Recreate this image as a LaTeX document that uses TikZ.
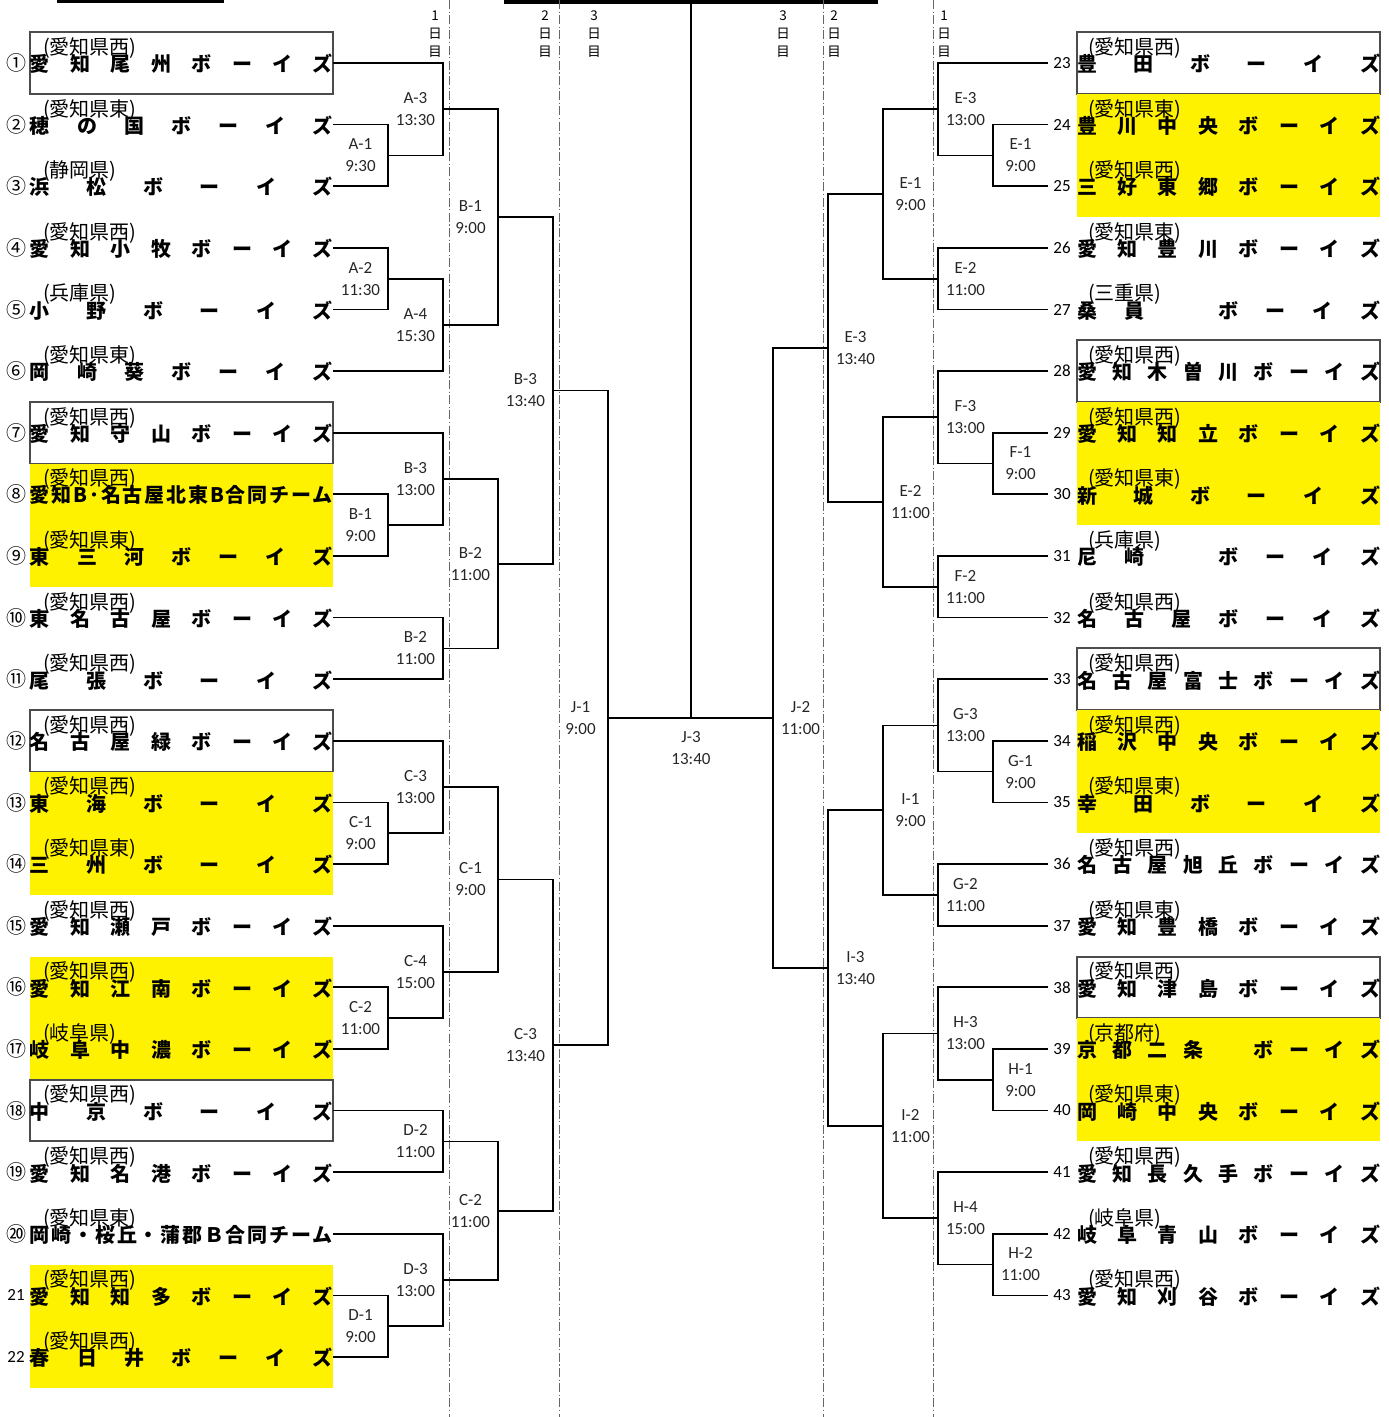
\documentclass[tikz,border=0pt]{standalone}
\usepackage{fontspec}
\setmainfont{Carlito}
\newfontfamily\cjk{Noto Sans CJK JP}
\newcommand\jj{\hfill}
\newcommand\bl{\hfill\phantom{ボ}\hfill}
\tikzset{
  br/.style={line width=1.7pt, black},
  dd/.style={line width=0.9pt, gray!80!black, dash pattern=on 9pt off 2.5pt on 1.2pt off 2.5pt},
  mlab/.style={font=\fontsize{17}{22}\selectfont, align=center, inner sep=0pt, text=black!85},
  daylab/.style={font=\cjk\fontsize{13.5}{18}\selectfont, align=center, inner sep=0pt},
  pref/.style={font=\cjk\fontsize{20}{20}\selectfont, anchor=west, inner sep=0pt},
  tnm/.style={font=\cjk\bfseries\fontsize{20}{20}\selectfont, inner sep=0pt},
  cnum/.style={font=\cjk\fontsize{20}{20}\selectfont, inner sep=0pt},
  pnum/.style={font=\fontsize{17}{18}\selectfont, inner sep=0pt},
  wbox/.style={draw=black!70, line width=1.1pt, fill=white},
  ybox/.style={fill=yellow}
}
\newcommand\tmL[4]{%
  \node[tnm] (#1n) at (181.5,{#2+1}) {\makebox[303pt][s]{#4}};
  \node[pref] (#1p) at (43,{#2-15}) {#3};}
\newcommand\tmR[4]{%
  \node[tnm] (#1n) at (1228.5,{#2+1}) {\makebox[303pt][s]{#4}};
  \node[pref] (#1p) at (1088,{#2-15}) {#3};}
\newcommand\br[3]{\draw[br] (#2) -- (#2 -| #1) -- (#3 -| #1) -- (#3);}
\begin{document}
\begin{tikzpicture}[x=1pt,y=-1pt]
\useasboundingbox (0,0) rectangle (1389,1417);
% boxes
\draw[wbox] (30,32) rectangle (333,94);
\draw[wbox] (30,402) rectangle (333,463.5);
\fill[ybox] (30,463.5) rectangle (333,587);
\draw[wbox] (30,710) rectangle (333,771.6);
\fill[ybox] (30,771.6) rectangle (333,895);
\fill[ybox] (30,956.5) rectangle (333,1080);
\draw[wbox] (30,1080) rectangle (333,1141);
\fill[ybox] (30,1264.6) rectangle (333,1388);
\draw[wbox] (1077,32) rectangle (1380,94);
\fill[ybox] (1077,94) rectangle (1380,217);
\draw[wbox] (1077,340) rectangle (1380,402);
\fill[ybox] (1077,402) rectangle (1380,525);
\draw[wbox] (1077,648) rectangle (1380,710);
\fill[ybox] (1077,710) rectangle (1380,833);
\draw[wbox] (1077,957) rectangle (1380,1018);
\fill[ybox] (1077,1018) rectangle (1380,1141);
% top bars
\fill (57,0) rectangle (224,2.5);
\fill (504,0) rectangle (878,3.5);
% day separators
\draw[dd] (449,0) -- (449,1417);
\draw[dd] (559,0) -- (559,1417);
\draw[dd] (823,0) -- (823,1417);
\draw[dd] (933,0) -- (933,1417);
\node[daylab] (d1l) at (435,34) {1\\日\\目};
\node[daylab] (d2l) at (545,34) {2\\日\\目};
\node[daylab] (d3l) at (594,34) {3\\日\\目};
\node[daylab] (d3r) at (783,34) {3\\日\\目};
\node[daylab] (d2r) at (834,34) {2\\日\\目};
\node[daylab] (d1r) at (944,34) {1\\日\\目};
% team line ends
\coordinate (t1) at (333,63);
\coordinate (t2) at (333,124.6);
\coordinate (t3) at (333,186.2);
\coordinate (t4) at (333,247.9);
\coordinate (t5) at (333,309.5);
\coordinate (t6) at (333,371.1);
\coordinate (t7) at (333,432.7);
\coordinate (t8) at (333,494.3);
\coordinate (t9) at (333,556.0);
\coordinate (t10) at (333,617.6);
\coordinate (t11) at (333,679.2);
\coordinate (t12) at (333,740.8);
\coordinate (t13) at (333,802.4);
\coordinate (t14) at (333,864.1);
\coordinate (t15) at (333,925.7);
\coordinate (t16) at (333,987.3);
\coordinate (t17) at (333,1048.9);
\coordinate (t18) at (333,1110.5);
\coordinate (t19) at (333,1172.2);
\coordinate (t20) at (333,1233.8);
\coordinate (t21) at (333,1295.4);
\coordinate (t22) at (333,1357.0);
\coordinate (t23) at (1048,63);
\coordinate (t24) at (1048,124.6);
\coordinate (t25) at (1048,186.2);
\coordinate (t26) at (1048,247.9);
\coordinate (t27) at (1048,309.5);
\coordinate (t28) at (1048,371.1);
\coordinate (t29) at (1048,432.7);
\coordinate (t30) at (1048,494.3);
\coordinate (t31) at (1048,556.0);
\coordinate (t32) at (1048,617.6);
\coordinate (t33) at (1048,679.2);
\coordinate (t34) at (1048,740.8);
\coordinate (t35) at (1048,802.4);
\coordinate (t36) at (1048,864.1);
\coordinate (t37) at (1048,925.7);
\coordinate (t38) at (1048,987.3);
\coordinate (t39) at (1048,1048.9);
\coordinate (t40) at (1048,1110.5);
\coordinate (t41) at (1048,1172.2);
\coordinate (t42) at (1048,1233.8);
\coordinate (t43) at (1048,1295.4);
% match points (left)
\coordinate (A1) at (388,155.4);
\coordinate (A2) at (388,278.7);
\coordinate (A3) at (443,109.2);
\coordinate (A4) at (443,324.9);
\coordinate (B1) at (498,217.05);
\coordinate (Bm1) at (388,525.15);
\coordinate (B3a) at (443,478.9);
\coordinate (B2a) at (443,648.4);
\coordinate (B2b) at (498,563.65);
\coordinate (B3b) at (553,390.35);
\coordinate (C1a) at (388,833.25);
\coordinate (C3a) at (443,787.0);
\coordinate (C2a) at (388,1018.1);
\coordinate (C4) at (443,971.9);
\coordinate (C1b) at (498,879.45);
\coordinate (D2) at (443,1141.35);
\coordinate (D1) at (388,1326.2);
\coordinate (D3) at (443,1280.0);
\coordinate (C2b) at (498,1210.7);
\coordinate (C3b) at (553,1045.1);
\coordinate (J1) at (608,717.7);
% match points (right)
\coordinate (E1a) at (993,155.4);
\coordinate (E3a) at (938,109.2);
\coordinate (E2a) at (938,278.7);
\coordinate (E1b) at (883,193.95);
\coordinate (F1) at (993,463.5);
\coordinate (F3) at (938,417.3);
\coordinate (F2) at (938,586.8);
\coordinate (E2b) at (883,502.05);
\coordinate (E3b) at (828,348.0);
\coordinate (G1) at (993,771.6);
\coordinate (G3) at (938,725.4);
\coordinate (G2) at (938,894.9);
\coordinate (I1) at (883,810.15);
\coordinate (H1) at (993,1079.7);
\coordinate (H3) at (938,1033.5);
\coordinate (H2) at (993,1264.5);
\coordinate (H4) at (938,1218.3);
\coordinate (I2) at (883,1125.9);
\coordinate (I3) at (828,968.0);
\coordinate (J2) at (773,717.7);
\coordinate (J3) at (691,717.7);
\coordinate (J3top) at (691,3);
% brackets left
\br{A1}{t2}{t3}
\br{A2}{t4}{t5}
\br{A3}{t1}{A1}
\br{A4}{A2}{t6}
\br{B1}{A3}{A4}
\br{Bm1}{t8}{t9}
\br{B3a}{t7}{Bm1}
\br{B2a}{t10}{t11}
\br{B2b}{B3a}{B2a}
\br{B3b}{B1}{B2b}
\br{C1a}{t13}{t14}
\br{C3a}{t12}{C1a}
\br{C2a}{t16}{t17}
\br{C4}{t15}{C2a}
\br{C1b}{C3a}{C4}
\br{D2}{t18}{t19}
\br{D1}{t21}{t22}
\br{D3}{t20}{D1}
\br{C2b}{D2}{D3}
\br{C3b}{C1b}{C2b}
\br{J1}{B3b}{C3b}
% brackets right
\br{E1a}{t24}{t25}
\br{E3a}{t23}{E1a}
\br{E2a}{t26}{t27}
\br{E1b}{E3a}{E2a}
\br{F1}{t29}{t30}
\br{F3}{t28}{F1}
\br{F2}{t31}{t32}
\br{E2b}{F3}{F2}
\br{E3b}{E1b}{E2b}
\br{G1}{t34}{t35}
\br{G3}{t33}{G1}
\br{G2}{t36}{t37}
\br{I1}{G3}{G2}
\br{H1}{t39}{t40}
\br{H3}{t38}{H1}
\br{H2}{t42}{t43}
\br{H4}{t41}{H2}
\br{I2}{H3}{H4}
\br{I3}{I1}{I2}
\draw[br] (E3b) -- (E3b -| J2) -- (I3 -| J2) -- (I3);
\draw[br] (J1) -- (J2);
\draw[br] (J3) -- (J3top);
% match labels left
\node[mlab] (lA3) at (415.5,109.2) {A-3\\13:30};
\node[mlab] (lA1) at (360.5,155.4) {A-1\\9:30};
\node[mlab] (lB1) at (470.5,217.05) {B-1\\9:00};
\node[mlab] (lA2) at (360.5,278.7) {A-2\\11:30};
\node[mlab] (lA4) at (415.5,324.9) {A-4\\15:30};
\node[mlab] (lB3b) at (525.5,390.35) {B-3\\13:40};
\node[mlab] (lB3a) at (415.5,478.9) {B-3\\13:00};
\node[mlab] (lBm1) at (360.5,525.15) {B-1\\9:00};
\node[mlab] (lB2b) at (470.5,563.65) {B-2\\11:00};
\node[mlab] (lB2a) at (415.5,648.4) {B-2\\11:00};
\node[mlab] (lJ1) at (580.5,717.7) {J-1\\9:00};
\node[mlab] (lC3a) at (415.5,787) {C-3\\13:00};
\node[mlab] (lC1a) at (360.5,833.25) {C-1\\9:00};
\node[mlab] (lC1b) at (470.5,879.45) {C-1\\9:00};
\node[mlab] (lC4) at (415.5,971.9) {C-4\\15:00};
\node[mlab] (lC2a) at (360.5,1018.1) {C-2\\11:00};
\node[mlab] (lC3b) at (525.5,1045.1) {C-3\\13:40};
\node[mlab] (lD2) at (415.5,1141.35) {D-2\\11:00};
\node[mlab] (lC2b) at (470.5,1210.7) {C-2\\11:00};
\node[mlab] (lD3) at (415.5,1280) {D-3\\13:00};
\node[mlab] (lD1) at (360.5,1326.2) {D-1\\9:00};
\node[mlab] (lJ3) at (691,748.5) {J-3\\13:40};
% match labels right
\node[mlab] (lE3a) at (965.5,109.2) {E-3\\13:00};
\node[mlab] (lE1a) at (1020.5,155.4) {E-1\\9:00};
\node[mlab] (lE1b) at (910.5,193.95) {E-1\\9:00};
\node[mlab] (lE2a) at (965.5,278.7) {E-2\\11:00};
\node[mlab] (lE3b) at (855.5,348) {E-3\\13:40};
\node[mlab] (lF3) at (965.5,417.3) {F-3\\13:00};
\node[mlab] (lF1) at (1020.5,463.5) {F-1\\9:00};
\node[mlab] (lE2b) at (910.5,502.05) {E-2\\11:00};
\node[mlab] (lF2) at (965.5,586.8) {F-2\\11:00};
\node[mlab] (lJ2) at (800.5,717.7) {J-2\\11:00};
\node[mlab] (lG3) at (965.5,725.4) {G-3\\13:00};
\node[mlab] (lG1) at (1020.5,771.6) {G-1\\9:00};
\node[mlab] (lI1) at (910.5,810.15) {I-1\\9:00};
\node[mlab] (lG2) at (965.5,894.9) {G-2\\11:00};
\node[mlab] (lI3) at (855.5,968) {I-3\\13:40};
\node[mlab] (lH3) at (965.5,1033.5) {H-3\\13:00};
\node[mlab] (lH1) at (1020.5,1079.7) {H-1\\9:00};
\node[mlab] (lI2) at (910.5,1125.9) {I-2\\11:00};
\node[mlab] (lH4) at (965.5,1218.3) {H-4\\15:00};
\node[mlab] (lH2) at (1020.5,1264.5) {H-2\\11:00};
% numbers left
\node[cnum] (n1) at (16,63) {①};
\node[cnum] (n2) at (16,124.6) {②};
\node[cnum] (n3) at (16,186.2) {③};
\node[cnum] (n4) at (16,247.9) {④};
\node[cnum] (n5) at (16,309.5) {⑤};
\node[cnum] (n6) at (16,371.1) {⑥};
\node[cnum] (n7) at (16,432.7) {⑦};
\node[cnum] (n8) at (16,494.3) {⑧};
\node[cnum] (n9) at (16,556.0) {⑨};
\node[cnum] (n10) at (16,617.6) {⑩};
\node[cnum] (n11) at (16,679.2) {⑪};
\node[cnum] (n12) at (16,740.8) {⑫};
\node[cnum] (n13) at (16,802.4) {⑬};
\node[cnum] (n14) at (16,864.1) {⑭};
\node[cnum] (n15) at (16,925.7) {⑮};
\node[cnum] (n16) at (16,987.3) {⑯};
\node[cnum] (n17) at (16,1048.9) {⑰};
\node[cnum] (n18) at (16,1110.5) {⑱};
\node[cnum] (n19) at (16,1172.2) {⑲};
\node[cnum] (n20) at (16,1233.8) {⑳};
\node[pnum] (n21) at (16,1295.4) {21};
\node[pnum] (n22) at (16,1357.0) {22};
% numbers right
\node[pnum] (n23) at (1062,63) {23};
\node[pnum] (n24) at (1062,124.6) {24};
\node[pnum] (n25) at (1062,186.2) {25};
\node[pnum] (n26) at (1062,247.9) {26};
\node[pnum] (n27) at (1062,309.5) {27};
\node[pnum] (n28) at (1062,371.1) {28};
\node[pnum] (n29) at (1062,432.7) {29};
\node[pnum] (n30) at (1062,494.3) {30};
\node[pnum] (n31) at (1062,556.0) {31};
\node[pnum] (n32) at (1062,617.6) {32};
\node[pnum] (n33) at (1062,679.2) {33};
\node[pnum] (n34) at (1062,740.8) {34};
\node[pnum] (n35) at (1062,802.4) {35};
\node[pnum] (n36) at (1062,864.1) {36};
\node[pnum] (n37) at (1062,925.7) {37};
\node[pnum] (n38) at (1062,987.3) {38};
\node[pnum] (n39) at (1062,1048.9) {39};
\node[pnum] (n40) at (1062,1110.5) {40};
\node[pnum] (n41) at (1062,1172.2) {41};
\node[pnum] (n42) at (1062,1233.8) {42};
\node[pnum] (n43) at (1062,1295.4) {43};
% teams left
\tmL{T1}{63}{(愛知県西)}{愛\jj 知\jj 尾\jj 州\jj ボ\jj ー\jj イ\jj ズ}
\tmL{T2}{124.6}{(愛知県東)}{穂\jj の\jj 国\jj ボ\jj ー\jj イ\jj ズ}
\tmL{T3}{186.2}{(静岡県)}{浜\jj 松\jj ボ\jj ー\jj イ\jj ズ}
\tmL{T4}{247.9}{(愛知県西)}{愛\jj 知\jj 小\jj 牧\jj ボ\jj ー\jj イ\jj ズ}
\tmL{T5}{309.5}{(兵庫県)}{小\jj 野\jj ボ\jj ー\jj イ\jj ズ}
\tmL{T6}{371.1}{(愛知県東)}{岡\jj 崎\jj 葵\jj ボ\jj ー\jj イ\jj ズ}
\tmL{T7}{432.7}{(愛知県西)}{愛\jj 知\jj 守\jj 山\jj ボ\jj ー\jj イ\jj ズ}
\tmL{T8}{494.3}{(愛知県西)}{愛\jj 知\jj B\jj ･\jj 名\jj 古\jj 屋\jj 北\jj 東\jj B\jj 合\jj 同\jj チ\jj ー\jj ム}
\tmL{T9}{556.0}{(愛知県東)}{東\jj 三\jj 河\jj ボ\jj ー\jj イ\jj ズ}
\tmL{T10}{617.6}{(愛知県西)}{東\jj 名\jj 古\jj 屋\jj ボ\jj ー\jj イ\jj ズ}
\tmL{T11}{679.2}{(愛知県西)}{尾\jj 張\jj ボ\jj ー\jj イ\jj ズ}
\tmL{T12}{740.8}{(愛知県西)}{名\jj 古\jj 屋\jj 緑\jj ボ\jj ー\jj イ\jj ズ}
\tmL{T13}{802.4}{(愛知県西)}{東\jj 海\jj ボ\jj ー\jj イ\jj ズ}
\tmL{T14}{864.1}{(愛知県東)}{三\jj 州\jj ボ\jj ー\jj イ\jj ズ}
\tmL{T15}{925.7}{(愛知県西)}{愛\jj 知\jj 瀬\jj 戸\jj ボ\jj ー\jj イ\jj ズ}
\tmL{T16}{987.3}{(愛知県西)}{愛\jj 知\jj 江\jj 南\jj ボ\jj ー\jj イ\jj ズ}
\tmL{T17}{1048.9}{(岐阜県)}{岐\jj 阜\jj 中\jj 濃\jj ボ\jj ー\jj イ\jj ズ}
\tmL{T18}{1110.5}{(愛知県西)}{中\jj 京\jj ボ\jj ー\jj イ\jj ズ}
\tmL{T19}{1172.2}{(愛知県西)}{愛\jj 知\jj 名\jj 港\jj ボ\jj ー\jj イ\jj ズ}
\tmL{T20}{1233.8}{(愛知県東)}{岡\jj 崎\jj ・\jj 桜\jj 丘\jj ・\jj 蒲\jj 郡\jj Ｂ\jj 合\jj 同\jj チ\jj ー\jj ム}
\tmL{T21}{1295.4}{(愛知県西)}{愛\jj 知\jj 知\jj 多\jj ボ\jj ー\jj イ\jj ズ}
\tmL{T22}{1357.0}{(愛知県西)}{春\jj 日\jj 井\jj ボ\jj ー\jj イ\jj ズ}
% teams right
\tmR{T23}{63}{(愛知県西)}{豊\jj 田\jj ボ\jj ー\jj イ\jj ズ}
\tmR{T24}{124.6}{(愛知県東)}{豊\jj 川\jj 中\jj 央\jj ボ\jj ー\jj イ\jj ズ}
\tmR{T25}{186.2}{(愛知県西)}{三\jj 好\jj 東\jj 郷\jj ボ\jj ー\jj イ\jj ズ}
\tmR{T26}{247.9}{(愛知県東)}{愛\jj 知\jj 豊\jj 川\jj ボ\jj ー\jj イ\jj ズ}
\tmR{T27}{309.5}{(三重県)}{桑\jj 員\bl ボ\jj ー\jj イ\jj ズ}
\tmR{T28}{371.1}{(愛知県西)}{愛\jj 知\jj 木\jj 曽\jj 川\jj ボ\jj ー\jj イ\jj ズ}
\tmR{T29}{432.7}{(愛知県西)}{愛\jj 知\jj 知\jj 立\jj ボ\jj ー\jj イ\jj ズ}
\tmR{T30}{494.3}{(愛知県東)}{新\jj 城\jj ボ\jj ー\jj イ\jj ズ}
\tmR{T31}{556.0}{(兵庫県)}{尼\jj 崎\bl ボ\jj ー\jj イ\jj ズ}
\tmR{T32}{617.6}{(愛知県西)}{名\jj 古\jj 屋\jj ボ\jj ー\jj イ\jj ズ}
\tmR{T33}{679.2}{(愛知県西)}{名\jj 古\jj 屋\jj 富\jj 士\jj ボ\jj ー\jj イ\jj ズ}
\tmR{T34}{740.8}{(愛知県西)}{稲\jj 沢\jj 中\jj 央\jj ボ\jj ー\jj イ\jj ズ}
\tmR{T35}{802.4}{(愛知県東)}{幸\jj 田\jj ボ\jj ー\jj イ\jj ズ}
\tmR{T36}{864.1}{(愛知県西)}{名\jj 古\jj 屋\jj 旭\jj 丘\jj ボ\jj ー\jj イ\jj ズ}
\tmR{T37}{925.7}{(愛知県東)}{愛\jj 知\jj 豊\jj 橋\jj ボ\jj ー\jj イ\jj ズ}
\tmR{T38}{987.3}{(愛知県西)}{愛\jj 知\jj 津\jj 島\jj ボ\jj ー\jj イ\jj ズ}
\tmR{T39}{1048.9}{(京都府)}{京\jj 都\jj 二\jj 条\bl ボ\jj ー\jj イ\jj ズ}
\tmR{T40}{1110.5}{(愛知県東)}{岡\jj 崎\jj 中\jj 央\jj ボ\jj ー\jj イ\jj ズ}
\tmR{T41}{1172.2}{(愛知県西)}{愛\jj 知\jj 長\jj 久\jj 手\jj ボ\jj ー\jj イ\jj ズ}
\tmR{T42}{1233.8}{(岐阜県)}{岐\jj 阜\jj 青\jj 山\jj ボ\jj ー\jj イ\jj ズ}
\tmR{T43}{1295.4}{(愛知県西)}{愛\jj 知\jj 刈\jj 谷\jj ボ\jj ー\jj イ\jj ズ}
\end{tikzpicture}
\end{document}
